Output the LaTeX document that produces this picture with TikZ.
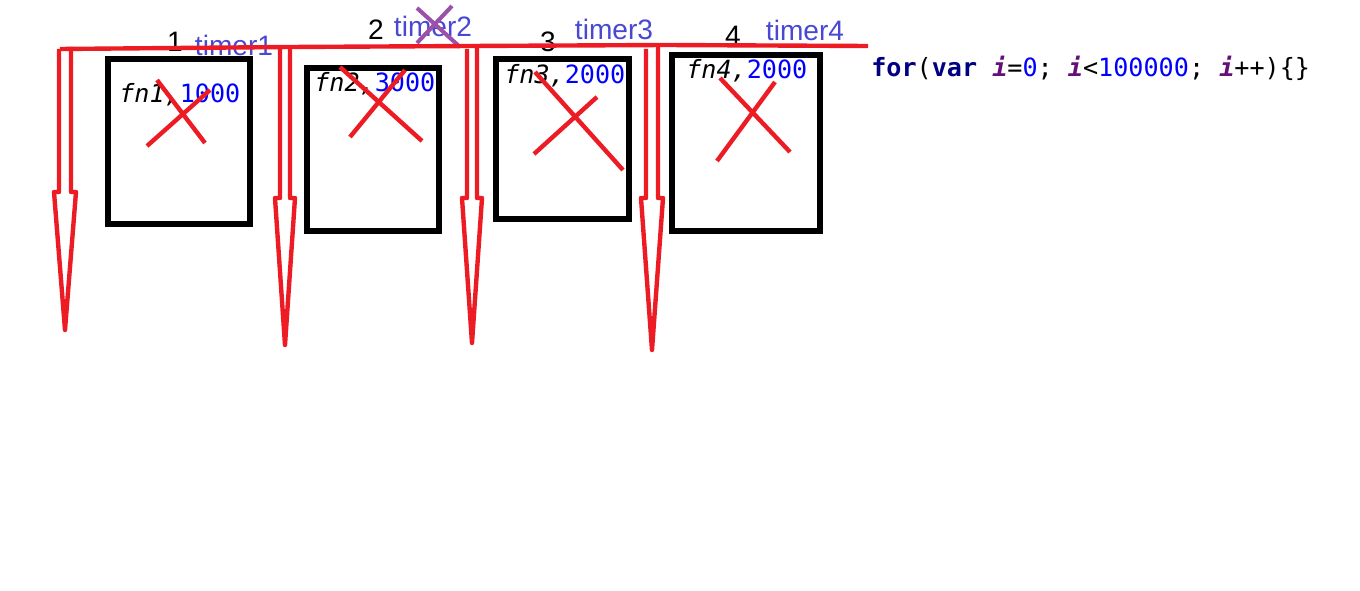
\documentclass[tikz,border=0pt]{standalone}
\usepackage{fontspec}
\setmainfont{Liberation Sans}
\newfontfamily\codefont{DejaVu Sans Mono}
\definecolor{paintred}{RGB}{237,28,36}
\definecolor{timerblue}{RGB}{72,72,210}
\definecolor{crosspurple}{RGB}{155,80,170}
\definecolor{kwnavy}{RGB}{0,0,128}
\definecolor{ivar}{RGB}{102,14,122}
\definecolor{numblue}{RGB}{0,0,255}
\newcommand{\kw}[1]{\textbf{\color{kwnavy}#1}}
\newcommand{\iv}{\textbf{\textit{\color{ivar}i}}}
\newcommand{\nm}[1]{{\color{numblue}#1}}
\tikzset{
  redline/.style={paintred, line width=2.5pt, line join=round},
  fnbox/.style={draw, line width=3pt},
  fntext/.style={anchor=west, inner sep=0pt, font=\codefont\fontsize{14.3}{16}\selectfont},
  timerlabel/.style={timerblue, inner sep=0pt, font=\fontsize{16}{18}\selectfont},
  numlabel/.style={inner sep=0pt, font=\fontsize{16}{18}\selectfont}
}
\begin{document}
\begin{tikzpicture}[x=0.02cm, y=-0.02cm]
  \useasboundingbox (0,0) rectangle (1360,591);
  % boxes with the callbacks
  \draw[fnbox] (108,59) rectangle (250,224);
  \draw[fnbox] (307,68) rectangle (439,231);
  \draw[fnbox] (496,59) rectangle (629,219);
  \draw[fnbox] (672,55) rectangle (820,231);
  \node[fntext] (fn1) at (119,95) {\textit{fn1,}\nm{1000}};
  \node[fntext] (fn2) at (314,84) {\textit{fn2,}\nm{3000}};
  \node[fntext] (fn3) at (504,76) {\textit{fn3,}\nm{2000}};
  \node[fntext] (fn4) at (686,71) {\textit{fn4,}\nm{2000}};
  % labels over the line
  \node[numlabel] (n1) at (175,42) {1};
  \node[numlabel] (n2) at (376,30) {2};
  \node[numlabel] (n3) at (548,42) {3};
  \node[numlabel] (n4) at (733,36) {4};
  \node[timerlabel] (t1) at (234,45) {timer1};
  \node[timerlabel] (t2) at (433,26) {timer2};
  \node[timerlabel] (t3) at (614,29) {timer3};
  \node[timerlabel] (t4) at (805,30) {timer4};
  \draw[crosspurple, line width=2.3pt] (417,8) -- (460,47) (452,6) -- (417,43);
  % main thread
  \draw[redline] (60,49) -- (290,47) -- (470,46) -- (665,45) -- (868,46);
  \foreach \x/\h/\tx/\ty/\w in {65/192/65/330/6, 285/198/285/345/5, 472/198/472/343/5, 652/198/652/350/6}
    \draw[redline] (\x-\w,49) -- (\x-\w,\h) -- (\x-\w-5,\h) -- (\tx,\ty)
      -- (\x+\w+5,\h) -- (\x+\w,\h) -- (\x+\w,47);
  % crossed out
  \draw[redline] (157,80) -- (205,143) (147,146) -- (210,90);
  \draw[redline] (340,67) -- (422,141) (350,137) -- (405,70);
  \draw[redline] (535,72) -- (623,170) (534,154) -- (597,97);
  \draw[redline] (720,78) -- (790,152) (717,161) -- (775,82);
  \node[fntext] (code) at (871,68) {\kw{for}(\kw{var} \iv=\nm{0}; \iv<\nm{100000}; \iv++)\{\}};
\end{tikzpicture}
\end{document}
